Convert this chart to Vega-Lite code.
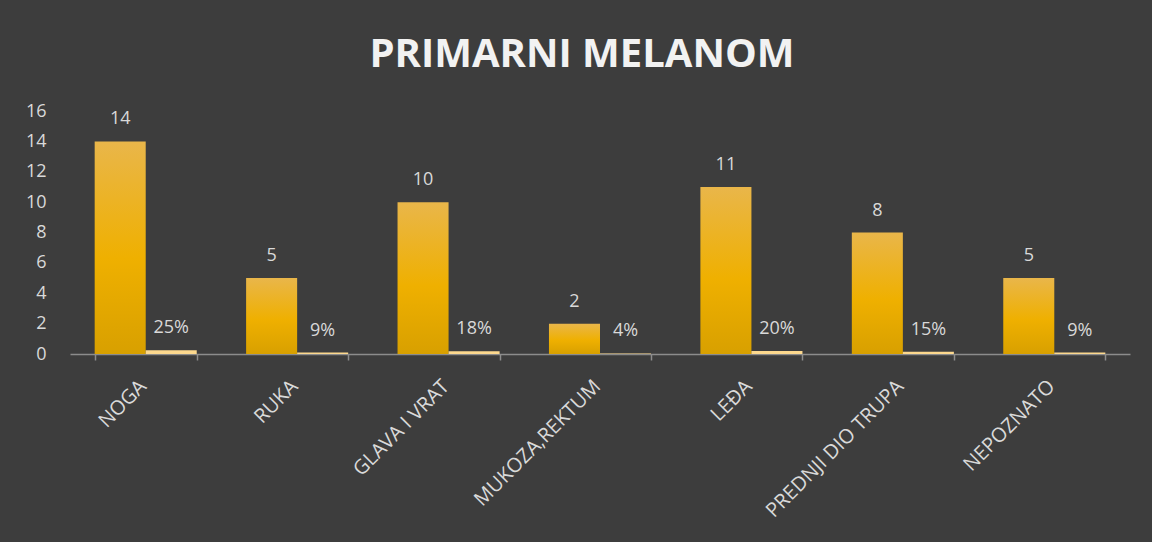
{
  "$schema": "https://vega.github.io/schema/vega-lite/v6.json",
  "width": 1060,
  "height": 243,
  "autosize": {"type": "none"},
  "padding": {"left": 70, "top": 111, "right": 22, "bottom": 188},
  "background": "#3d3d3d",
  "title": {
    "text": "PRIMARNI MELANOM",
    "font": "Open Sans",
    "fontSize": 40,
    "fontWeight": "bold",
    "color": "#f2f2f2",
    "anchor": "middle",
    "baseline": "alphabetic",
    "offset": -5,
    "dx": -18
  },
  "data": {
    "values": [
      {"mjesto": "NOGA", "serija": "broj", "vrijednost": 14, "oznaka": "14"},
      {"mjesto": "NOGA", "serija": "postotak", "vrijednost": 0.2545, "oznaka": "25%"},
      {"mjesto": "RUKA", "serija": "broj", "vrijednost": 5, "oznaka": "5"},
      {"mjesto": "RUKA", "serija": "postotak", "vrijednost": 0.0909, "oznaka": "9%"},
      {"mjesto": "GLAVA I VRAT", "serija": "broj", "vrijednost": 10, "oznaka": "10"},
      {"mjesto": "GLAVA I VRAT", "serija": "postotak", "vrijednost": 0.1818, "oznaka": "18%"},
      {"mjesto": "MUKOZA,REKTUM", "serija": "broj", "vrijednost": 2, "oznaka": "2"},
      {"mjesto": "MUKOZA,REKTUM", "serija": "postotak", "vrijednost": 0.0364, "oznaka": "4%"},
      {"mjesto": "LEĐA", "serija": "broj", "vrijednost": 11, "oznaka": "11"},
      {"mjesto": "LEĐA", "serija": "postotak", "vrijednost": 0.2, "oznaka": "20%"},
      {"mjesto": "PREDNJI DIO TRUPA", "serija": "broj", "vrijednost": 8, "oznaka": "8"},
      {"mjesto": "PREDNJI DIO TRUPA", "serija": "postotak", "vrijednost": 0.1455, "oznaka": "15%"},
      {"mjesto": "NEPOZNATO", "serija": "broj", "vrijednost": 5, "oznaka": "5"},
      {"mjesto": "NEPOZNATO", "serija": "postotak", "vrijednost": 0.0909, "oznaka": "9%"}
    ]
  },
  "encoding": {
    "x": {
      "field": "mjesto",
      "type": "nominal",
      "sort": null,
      "scale": {"paddingInner": 0.326, "paddingOuter": 0.163},
      "axis": {
        "title": null,
        "labelAngle": -45,
        "labelFont": "Open Sans",
        "labelFontSize": 20,
        "labelLimit": 400,
        "labelColor": "#d9d9d9",
        "labelPadding": 16,
        "labelOffset": -10,
        "domainColor": "#8c8c8c",
        "domainWidth": 1.5,
        "tickColor": "#8c8c8c",
        "tickWidth": 1.5,
        "tickSize": 6,
        "tickBand": "extent",
        "grid": false
      }
    },
    "xOffset": {
      "field": "serija",
      "type": "nominal",
      "sort": ["broj", "postotak"],
      "scale": {"paddingInner": 0, "paddingOuter": 0}
    },
    "y": {
      "field": "vrijednost",
      "type": "quantitative",
      "scale": {"domain": [0, 16]},
      "axis": {
        "title": null,
        "values": [0, 2, 4, 6, 8, 10, 12, 14, 16],
        "ticks": false,
        "domain": false,
        "grid": false,
        "labelFont": "Open Sans",
        "labelFontSize": 18,
        "labelColor": "#d9d9d9",
        "labelPadding": 24
      }
    }
  },
  "layer": [
    {
      "transform": [{"filter": "datum.serija === 'broj'"}],
      "mark": {
        "type": "bar",
        "color": {
          "gradient": "linear",
          "x1": 0, "y1": 0, "x2": 0, "y2": 1,
          "stops": [
            {"offset": 0, "color": "#e9b64a"},
            {"offset": 0.55, "color": "#efb000"},
            {"offset": 1, "color": "#d8a000"}
          ]
        }
      }
    },
    {
      "transform": [{"filter": "datum.serija === 'postotak'"}],
      "mark": {"type": "bar", "color": "#fcd88e"}
    },
    {
      "mark": {
        "type": "text",
        "baseline": "alphabetic",
        "dy": -17,
        "font": "Open Sans",
        "fontSize": 18,
        "color": "#d9d9d9"
      },
      "encoding": {"text": {"field": "oznaka"}}
    }
  ],
  "config": {"view": {"stroke": null}}
}
